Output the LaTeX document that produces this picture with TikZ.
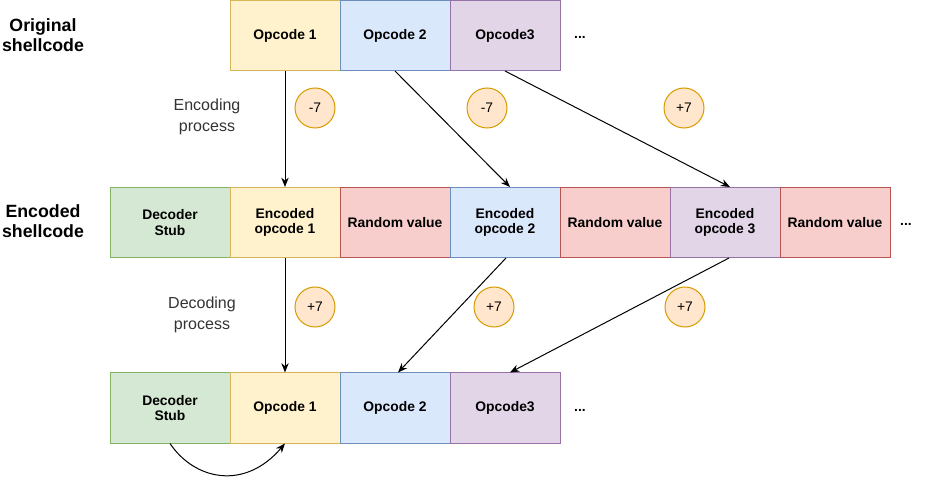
\documentclass[tikz,border=0pt]{standalone}
\usepackage{fontspec}
\setmainfont{Liberation Sans}
\usetikzlibrary{arrows.meta,calc}
\definecolor{yfill}{HTML}{FFF2CC}\definecolor{ydraw}{HTML}{D6B656}
\definecolor{bfill}{HTML}{DAE8FC}\definecolor{bdraw}{HTML}{6C8EBF}
\definecolor{pfill}{HTML}{E1D5E7}\definecolor{pdraw}{HTML}{9673A6}
\definecolor{rfill}{HTML}{F8CECC}\definecolor{rdraw}{HTML}{B85450}
\definecolor{gfill}{HTML}{D5E8D4}\definecolor{gdraw}{HTML}{82B366}
\definecolor{ofill}{HTML}{FFE6CC}\definecolor{odraw}{HTML}{D79B00}
\definecolor{labtxt}{HTML}{333333}
\begin{document}
\begin{tikzpicture}[x=0.75pt,y=-0.75pt,
  cell/.style={draw,line width=0.75pt,minimum width=82.5pt,minimum height=52.5pt,inner sep=0pt,
     align=center,font=\fontsize{10.4}{11.6}\selectfont\bfseries},
  wide/.style={cell,minimum width=90pt},
  yel/.style={cell,fill=yfill,draw=ydraw},
  blu/.style={cell,fill=bfill,draw=bdraw},
  pur/.style={cell,fill=pfill,draw=pdraw},
  red/.style={cell,fill=rfill,draw=rdraw},
  grn/.style={wide,fill=gfill,draw=gdraw},
  op/.style={circle,fill=ofill,draw=odraw,line width=0.75pt,minimum size=30pt,inner sep=0pt,
     font=\fontsize{10.4}{12}\selectfont},
  rowlab/.style={align=center,font=\fontsize{13.3}{15.5}\selectfont\bfseries},
  proc/.style={align=center,text=labtxt,font=\fontsize{12}{15.5}\selectfont},
  dots/.style={font=\fontsize{10.4}{12}\selectfont\bfseries},
  arr/.style={line width=0.75pt,-{Stealth[length=7pt,width=5.5pt]}}
]
\useasboundingbox (0,0) rectangle (926,481);

% row labels
\node[rowlab] (lorig) at (43,35) {Original\\shellcode};
\node[rowlab] (lenc) at (43,221) {Encoded\\shellcode};

% top row
\node[yel] (o1) at (285,35.5) {Opcode 1};
\node[blu] (o2) at (395,35.5) {Opcode 2};
\node[pur] (o3) at (505,35.5) {Opcode3};
\node[dots] (odots) at (580,37) {...};

% middle row
\node[grn] (es) at (170,222.5) {Decoder\\Stub};
\node[yel] (e1) at (285,222.5) {Encoded\\opcode 1};
\node[red] (r1) at (395,222.5) {Random value};
\node[blu] (e2) at (505,222.5) {Encoded\\opcode 2};
\node[red] (r2) at (615,222.5) {Random value};
\node[pur] (e3) at (725,222.5) {Encoded\\opcode 3};
\node[red] (r3) at (835,222.5) {Random value};
\node[dots] (edots) at (906,224) {...};

% bottom row
\node[grn] (ds) at (170,408) {Decoder\\Stub};
\node[yel] (d1) at (285,408) {Opcode 1};
\node[blu] (d2) at (395,408) {Opcode 2};
\node[pur] (d3) at (505,408) {Opcode3};
\node[dots] (ddots) at (580,410) {...};

% process labels
\node[proc] (encp) at (207,117) {Encoding\\process};
\node[proc] (decp) at (202,315) {Decoding\\process};

% circles
\node[op] (c1) at (315,108) {-7};
\node[op] (c2) at (487,108) {-7};
\node[op] (c3) at (684,108) {+7};
\node[op] (c4) at (315,307) {+7};
\node[op] (c5) at (494,307) {+7};
\node[op] (c6) at (685,307) {+7};

% encoding arrows
\draw[arr] (o1.south) -- (e1.north);
\draw[arr] (o2.south) -- ([xshift=3.75pt]e2.north);
\draw[arr] (o3.south) -- ([xshift=3.75pt]e3.north);

% decoding arrows
\draw[arr] (e1.south) -- (d1.north);
\draw[arr] ([xshift=0.75pt]e2.south) -- ([xshift=2.25pt]d2.north);
\draw[arr] ([xshift=3pt]e3.south) -- ([xshift=3.75pt]d3.north);

% decoder loop
\draw[arr] (ds.south) .. controls ($(ds.south)+(25,37)$) and ($(d1.south)+(-40,47)$) .. (d1.south);
\end{tikzpicture}
\end{document}
